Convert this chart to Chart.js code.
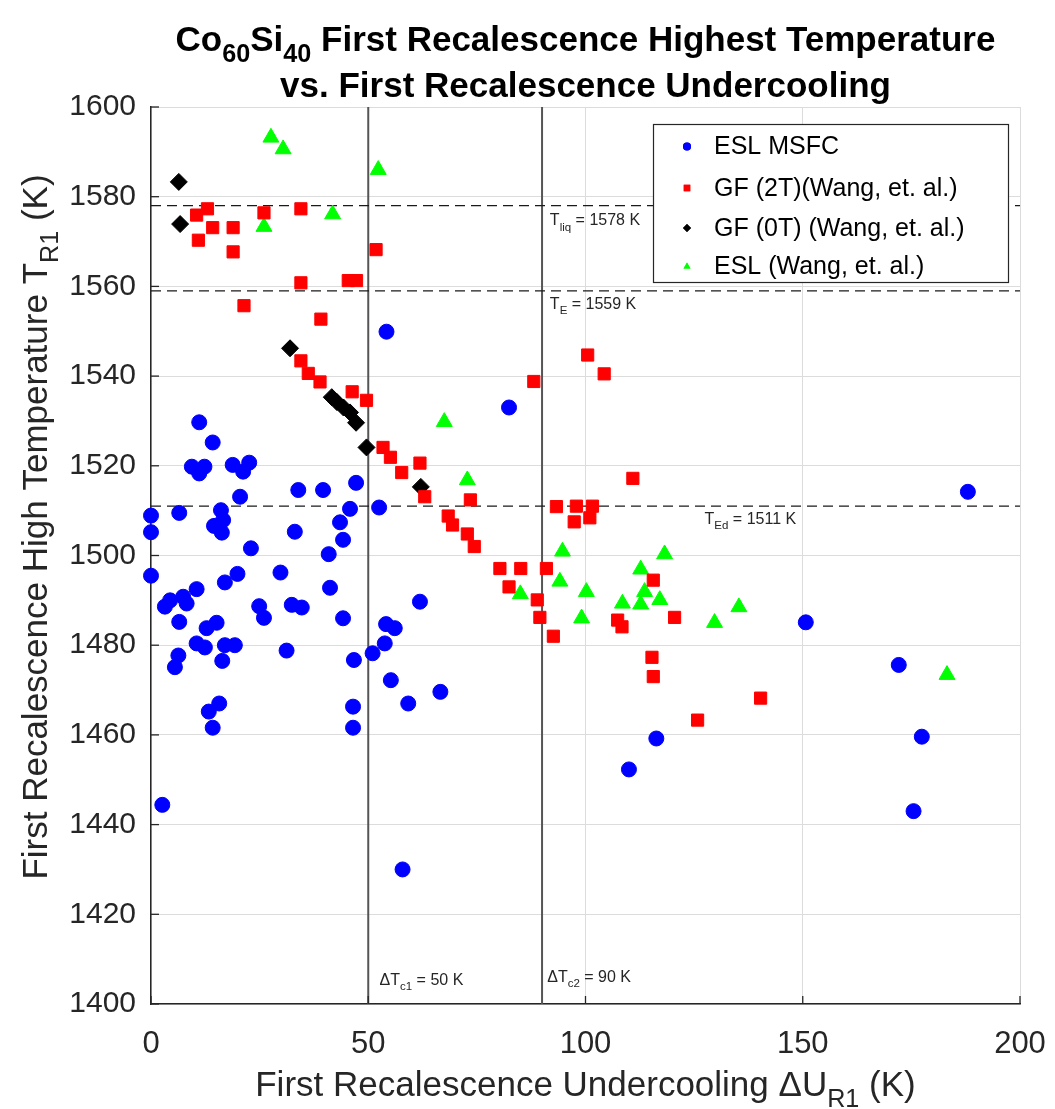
<!DOCTYPE html>
<html>
<head>
<meta charset="utf-8">
<script src="https://cdn.jsdelivr.net/npm/chart.js@4.4.1/dist/chart.umd.min.js"></script>
<style>
html,body{margin:0;padding:0;background:#ffffff;}
#wrap{width:1055px;height:1109px;position:relative;}
canvas{display:block;}
</style>
</head>
<body>
<div id="wrap"><canvas id="chart" width="1055" height="1109"></canvas></div>
<script>
// ---------------- DATA ----------------
const xTicks = [0, 50, 100, 150, 200];
const yTicks = [1400, 1420, 1440, 1460, 1480, 1500, 1520, 1540, 1560, 1580, 1600];

const seriesLabels = ["ESL MSFC", "GF (2T)(Wang, et. al.)", "GF (0T) (Wang, et. al.)", "ESL (Wang, et. al.)"];

const eslMsfcX = [54.2, 82.4, 188.0, 11.1, 14.2, 9.4, 11.1, 12.3, 18.8, 21.2, 22.6, 20.5, 33.9, 39.6, 47.2, 45.8, 52.5, 0, 0, 6.5,
  16.1, 16.6, 14.5, 16.3, 33.1, 43.5, 44.2, 23.0, 40.9, 0, 17.0, 19.9, 29.8, 41.2, 10.5, 4.4, 3.2, 7.4, 8.2, 24.9,
  26.0, 32.4, 34.7, 44.2, 61.9, 6.5, 12.8, 15.1, 54.1, 56.1, 10.5, 12.4, 17.0, 19.3, 31.2, 51.0, 53.8, 6.3, 5.5, 16.4,
  46.7, 55.2, 66.6, 15.7, 13.3, 14.2, 46.5, 46.5, 2.6, 57.9, 59.2, 150.7, 172.1, 177.4, 175.5, 116.3, 110.0];
const eslMsfcY = [1549.9, 1533.0, 1514.2, 1529.7, 1525.2, 1519.8, 1518.3, 1519.8, 1520.2, 1518.7, 1520.7, 1513.1, 1514.6, 1514.6, 1516.2, 1510.4, 1510.7, 1508.9, 1505.2, 1509.5,
  1510.1, 1507.9, 1506.6, 1505.1, 1505.3, 1507.4, 1503.5, 1501.6, 1500.3, 1495.5, 1494.0, 1495.9, 1496.2, 1492.8, 1492.5, 1490.0, 1488.6, 1490.8, 1489.3, 1488.7,
  1486.1, 1489.0, 1488.4, 1486.0, 1489.7, 1485.2, 1483.8, 1485.0, 1484.7, 1483.8, 1480.4, 1479.5, 1480.0, 1480.0, 1478.8, 1478.2, 1480.4, 1477.7, 1475.1, 1476.5,
  1476.7, 1472.2, 1469.6, 1467.0, 1465.2, 1461.6, 1466.3, 1461.6, 1444.4, 1430.0, 1467.0, 1485.1, 1475.6, 1459.6, 1443.0, 1459.2, 1452.3];

const gf2tX = [10.5, 13.0, 14.2, 18.9, 10.9, 18.9, 26.0, 34.5, 51.8, 34.5, 45.4, 47.3, 21.4, 39.1, 34.5, 36.2, 38.9, 46.3, 49.6, 53.4,
  55.1, 57.7, 61.9, 63.0, 73.5, 68.4, 69.4, 72.8, 74.4, 93.3, 97.9, 101.6, 97.4, 101.0, 110.9, 80.3, 85.1, 91.0, 82.4, 115.6,
  88.9, 89.5, 107.4, 108.4, 120.5, 92.6, 115.3, 115.6, 125.8, 140.3, 100.5, 104.3, 88.1];
const gf2tY = [1575.9, 1577.3, 1573.1, 1573.1, 1570.3, 1567.7, 1576.4, 1577.3, 1568.2, 1560.8, 1561.3, 1561.3, 1555.7, 1552.7, 1543.4, 1540.6, 1538.7, 1536.5, 1534.6, 1524.1,
  1521.9, 1518.5, 1520.6, 1513.1, 1512.4, 1508.8, 1506.8, 1504.8, 1502.0, 1510.9, 1511.0, 1511.0, 1507.5, 1508.4, 1517.2, 1497.1, 1497.1, 1497.1, 1493.0, 1494.5,
  1490.1, 1486.2, 1485.6, 1484.1, 1486.2, 1482.0, 1477.3, 1473.0, 1463.3, 1468.2, 1544.7, 1540.5, 1538.8];

const gf0tX = [6.4, 6.7, 32.0, 41.6, 42.8, 44.3, 45.8, 47.2, 49.6, 62.1];
const gf0tY = [1583.3, 1573.9, 1546.2, 1535.3, 1534.2, 1533.0, 1531.9, 1529.6, 1524.1, 1515.3];

const eslWangX = [27.6, 30.4, 52.3, 41.8, 26.0, 67.5, 72.8, 94.7, 118.2, 94.1, 112.7, 85.0, 100.2, 113.6, 108.5, 112.7, 117.1, 99.1, 129.7, 135.3, 183.2];
const eslWangY = [1593.2, 1590.6, 1586.0, 1576.1, 1573.3, 1529.8, 1516.8, 1500.9, 1500.3, 1494.2, 1496.9, 1491.4, 1491.9, 1491.9, 1489.3, 1489.1, 1490.1, 1486.0, 1485.0, 1488.5, 1473.4];

// reference temperatures (horizontal dashed) and critical undercoolings (vertical solid)
const refTemps = [1578, 1559, 1511];
const refTempNames = ["liq", "E", "Ed"];
const critUndercool = [50, 90];
const critNames = ["c1", "c2"];

// ---------------- HELPERS ----------------
const FONT = '"Liberation Sans", Arial, Helvetica, sans-serif';
const pts = (xs, ys) => xs.map((x, i) => ({x: x, y: ys[i]}));

function fontStr(size, bold) { return (bold ? 'bold ' : '') + size + 'px ' + FONT; }
function richWidth(ctx, parts, size, bold) {
  let w = 0;
  parts.forEach(p => { ctx.font = fontStr(p.sub ? size * 0.72 : size, bold); w += ctx.measureText(p.t).width; });
  return w;
}
function drawRich(ctx, parts, x, y, size, bold, align, color) {
  const w = richWidth(ctx, parts, size, bold);
  let cx = align === 'center' ? x - w / 2 : x;
  ctx.fillStyle = color;
  ctx.textBaseline = 'alphabetic';
  ctx.textAlign = 'left';
  parts.forEach(p => {
    ctx.font = fontStr(p.sub ? size * 0.72 : size, bold);
    ctx.fillText(p.t, cx, y + (p.sub ? size * 0.32 : 0));
    cx += ctx.measureText(p.t).width;
  });
}
function noPad(s) { s.paddingLeft = 0; s.paddingRight = 0; s.paddingTop = 0; s.paddingBottom = 0; }

// ---------------- DATASETS ----------------
const datasets = [
  {label: seriesLabels[0], data: pts(eslMsfcX, eslMsfcY), pointStyle: 'circle', pointRadius: 7.5,
   backgroundColor: '#0000ff', borderColor: '#0000ff', borderWidth: 1, order: 0, clip: false},
  {label: seriesLabels[1], data: pts(gf2tX, gf2tY), pointStyle: 'rect', pointRadius: 8.6,
   backgroundColor: '#ff0000', borderColor: '#ff0000', borderWidth: 1, order: 0, clip: false},
  {label: seriesLabels[2], data: pts(gf0tX, gf0tY), pointStyle: 'rectRot', pointRadius: 8.5,
   backgroundColor: '#000000', borderColor: '#000000', borderWidth: 1, order: 0, clip: false},
  {label: seriesLabels[3], data: pts(eslWangX, eslWangY), pointStyle: 'triangle', pointRadius: 9.2,
   backgroundColor: '#00ff00', borderColor: '#00ff00', borderWidth: 1, order: 0, clip: false}
];
refTemps.forEach(t => datasets.push({
  label: 'ref' + t, data: [{x: xTicks[0], y: t}, {x: xTicks[xTicks.length - 1], y: t}],
  showLine: true, pointRadius: 0, borderColor: '#1a1a1a', borderWidth: 1.3, borderDash: [10, 6], order: 2, fill: false
}));
critUndercool.forEach(u => datasets.push({
  label: 'crit' + u, data: [{x: u, y: yTicks[0]}, {x: u, y: yTicks[yTicks.length - 1]}],
  showLine: true, pointRadius: 0, borderColor: '#555555', borderWidth: 2, order: 2, fill: false
}));

// ---------------- PLUGIN: texts, legend, inner ticks ----------------
const decor = {
  id: 'decor',
  afterDraw(chart) {
    const ctx = chart.ctx;
    const xs = chart.scales.x, ys = chart.scales.y, ca = chart.chartArea;
    ctx.save();

    // inner tick marks
    ctx.strokeStyle = '#262626'; ctx.lineWidth = 1.3;
    yTicks.forEach(v => { const y = ys.getPixelForValue(v); ctx.beginPath(); ctx.moveTo(ca.left, y); ctx.lineTo(ca.left + 8, y); ctx.stroke(); });
    xTicks.forEach(v => { const x = xs.getPixelForValue(v); ctx.beginPath(); ctx.moveTo(x, ca.bottom); ctx.lineTo(x, ca.bottom - 8); ctx.stroke(); });

    // annotations
    const ann = 16, annColor = '#262626';
    const tl = [
      {x: 91.8, y: 1573.6}, {x: 91.8, y: 1555.0}, {x: 127.4, y: 1507.0}
    ];
    refTemps.forEach((t, i) => {
      drawRich(ctx, [{t: 'T'}, {t: refTempNames[i], sub: true}, {t: ' = ' + t + ' K'}],
        xs.getPixelForValue(tl[i].x), ys.getPixelForValue(tl[i].y), ann, false, 'left', annColor);
    });
    const cl = [{x: 52.6, y: 1404.2}, {x: 91.2, y: 1405.0}];
    critUndercool.forEach((u, i) => {
      drawRich(ctx, [{t: '\u0394T'}, {t: critNames[i], sub: true}, {t: ' = ' + u + ' K'}],
        xs.getPixelForValue(cl[i].x), ys.getPixelForValue(cl[i].y), ann, false, 'left', annColor);
    });

    // title
    const cx = (ca.left + ca.right) / 2;
    drawRich(ctx, [{t: 'Co'}, {t: '60', sub: true}, {t: 'Si'}, {t: '40', sub: true}, {t: ' First Recalescence Highest Temperature'}],
      cx, 51, 35, true, 'center', '#000000');
    drawRich(ctx, [{t: 'vs. First Recalescence Undercooling'}], cx, 97, 35, true, 'center', '#000000');

    // x axis title
    drawRich(ctx, [{t: 'First Recalescence Undercooling \u0394U'}, {t: 'R1', sub: true}, {t: ' (K)'}],
      cx, 1096, 35, false, 'center', '#262626');
    // y axis title
    ctx.save();
    ctx.translate(47, 527);
    ctx.rotate(-Math.PI / 2);
    drawRich(ctx, [{t: 'First Recalescence High Temperature T'}, {t: 'R1', sub: true}, {t: ' (K)'}],
      0, 0, 35, false, 'center', '#262626');
    ctx.restore();

    // legend
    const lx = 653, ly = 124, lw = 355, lh = 158;
    ctx.fillStyle = '#ffffff'; ctx.fillRect(lx, ly, lw, lh);
    ctx.strokeStyle = '#262626'; ctx.lineWidth = 1.2; ctx.strokeRect(lx + 0.5, ly + 0.5, lw, lh);
    const rowY = [146.5, 188, 228, 266.5];
    chart.data.datasets.slice(0, 4).forEach((ds, i) => {
      ctx.fillStyle = ds.backgroundColor;
      Chart.helpers.drawPoint(ctx, {pointStyle: ds.pointStyle, radius: ds.pointStyle === 'rect' ? 4.6 : 4, borderWidth: 0}, 687, rowY[i]);
      ctx.fill();
      ctx.fillStyle = '#000000';
      ctx.font = fontStr(25, false);
      ctx.textAlign = 'left'; ctx.textBaseline = 'middle';
      ctx.fillText(ds.label, 714, rowY[i] + 1);
    });
    ctx.restore();
  }
};

// ---------------- CHART ----------------
new Chart(document.getElementById('chart'), {
  type: 'scatter',
  data: {datasets: datasets},
  options: {
    responsive: false, animation: false, devicePixelRatio: 1,
    layout: {padding: {top: 107, right: 35, left: 0, bottom: 0}, autoPadding: false},
    plugins: {legend: {display: false}, title: {display: false}, tooltip: {enabled: false}},
    elements: {line: {tension: 0}},
    scales: {
      x: {
        type: 'linear', min: xTicks[0], max: xTicks[xTicks.length - 1],
        afterBuildTicks: s => { s.ticks = xTicks.map(v => ({value: v})); },
        ticks: {font: {family: FONT, size: 31}, color: '#262626', padding: 22, maxRotation: 0, autoSkip: false,
                callback: v => String(v)},
        grid: {color: '#dcdcdc', lineWidth: 1, drawTicks: false},
        border: {display: true, color: '#262626', width: 1.5},
        afterFit: s => { s.height = 105; noPad(s); }
      },
      y: {
        type: 'linear', min: yTicks[0], max: yTicks[yTicks.length - 1],
        afterBuildTicks: s => { s.ticks = yTicks.map(v => ({value: v})); },
        ticks: {font: {family: FONT, size: 30}, color: '#262626', padding: 15, autoSkip: false,
                callback: v => String(v)},
        grid: {color: '#dcdcdc', lineWidth: 1, drawTicks: false},
        border: {display: true, color: '#262626', width: 1.5},
        afterFit: s => { s.width = 151; noPad(s); }
      }
    }
  },
  plugins: [decor]
});
</script>
</body>
</html>
